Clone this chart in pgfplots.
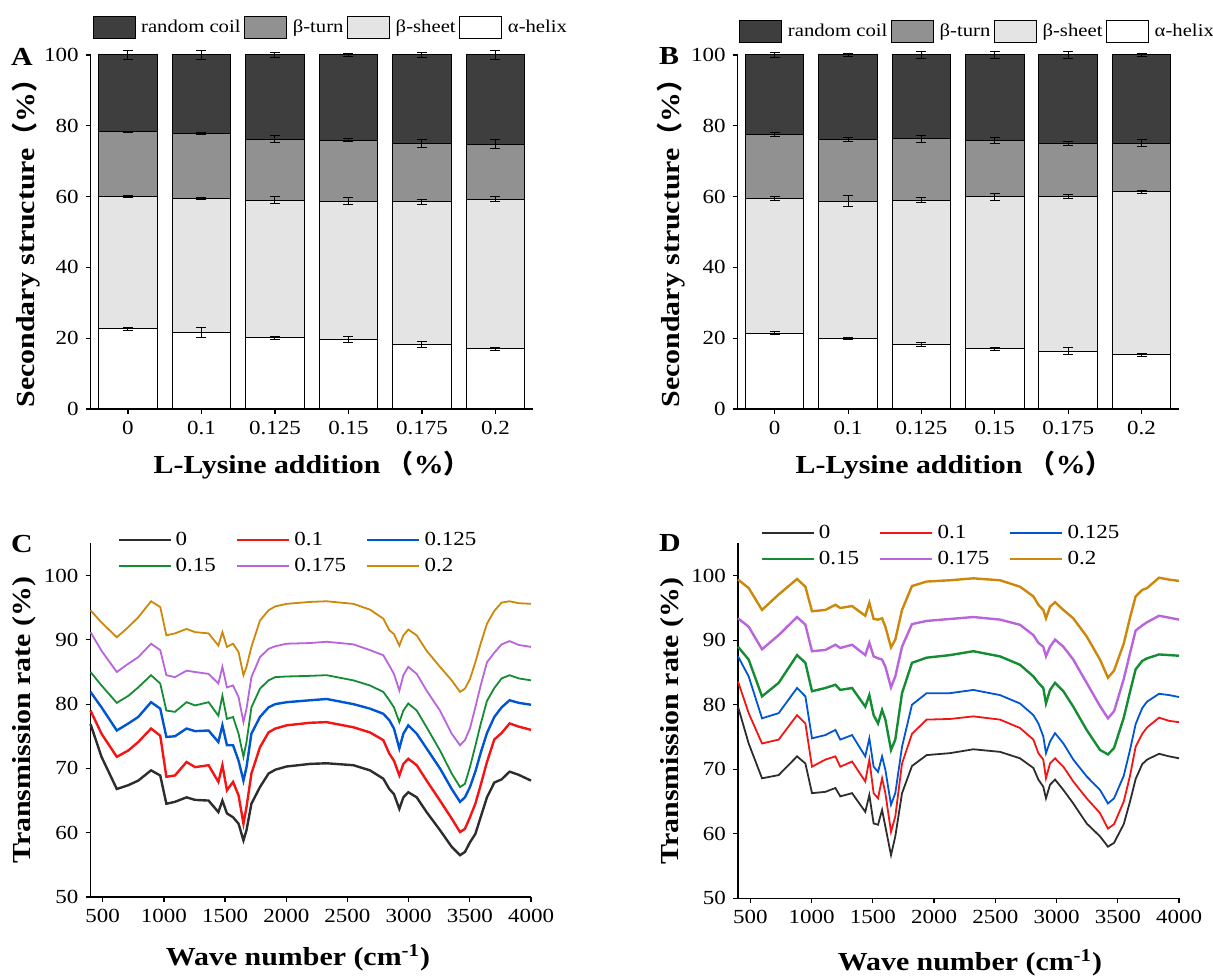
\documentclass[border=0pt]{standalone}
\usepackage{fontspec}
\setmainfont{Liberation Serif}[FakeStretch=1.15]
\newfontfamily\cjk{Noto Sans CJK SC}
\usepackage{pgfplots}
\usepackage{pgfplotstable}
\pgfplotsset{compat=1.18}

\newcommand\ticksize{\fontsize{10}{12}\selectfont}
\newcommand\labsize{\fontsize{13}{15}\selectfont\bfseries}

\definecolor{rcoil}{RGB}{62,62,62}
\definecolor{bturn}{RGB}{145,145,145}
\definecolor{bsheet}{RGB}{228,228,228}
\definecolor{c0}{RGB}{45,45,45}
\definecolor{c1}{RGB}{245,20,20}
\definecolor{c2}{RGB}{0,85,210}
\definecolor{c3}{RGB}{20,140,50}
\definecolor{c4}{RGB}{185,100,220}
\definecolor{c5}{RGB}{205,135,10}

% secondary structure, segments stacked from the bottom, with sd
\pgfplotstableread{
x ah bs bt rc eah ebs ebt erc
0 22.6 37.3 18.4 21.7 0.5 0.3 0.2 1.2
1 21.6 37.9 18.2 22.3 1.5 0.3 0.3 1.2
2 20.1 38.9 17.2 23.8 0.4 1.0 1.0 0.8
3 19.7 39.0 17.2 24.1 0.8 1.0 0.4 0.5
4 18.3 40.2 16.5 25.0 0.8 0.7 1.0 0.8
5 17.0 42.3 15.5 25.2 0.5 0.8 1.2 1.2
}\tabA
\pgfplotstableread{
x ah bs bt rc eah ebs ebt erc
0 21.4 38.0 18.2 22.4 0.5 0.5 0.5 0.6
1 19.9 38.8 17.5 23.8 0.3 1.5 0.6 0.5
2 18.3 40.7 17.3 23.7 0.6 0.8 1.0 1.0
3 17.0 43.0 15.9 24.1 0.4 1.0 0.8 1.0
4 16.3 43.7 15.1 24.9 1.0 0.6 0.6 1.0
5 15.3 46.0 13.8 24.9 0.4 0.3 1.0 0.5
}\tabB

% FTIR spectra
\pgfplotstableread{
x s0 s1 s2 s3 s4 s5
400 76.9 79.0 81.9 85.0 91.2 94.6
490 71.8 75.4 79.5 82.9 88.3 92.7
615 66.8 71.8 75.9 80.2 85.0 90.4
710 67.4 72.8 77.0 81.3 86.3 92.0
790 68.1 74.1 78.0 82.6 87.3 93.5
895 69.7 76.2 80.3 84.5 89.4 96.0
970 68.9 75.1 79.3 83.2 88.4 95.1
1020 64.5 68.7 74.9 79.0 84.5 90.7
1090 64.8 68.9 75.0 78.8 84.2 91.0
1185 65.5 71.0 76.2 80.3 85.2 91.7
1255 65.1 70.2 75.8 79.8 85.0 91.2
1365 65.0 70.5 75.9 80.3 84.7 91.0
1445 63.2 67.9 74.1 78.2 83.2 89.1
1478 65.0 70.5 76.7 81.3 85.8 91.2
1515 63.0 66.6 73.6 77.7 82.6 88.9
1565 62.4 67.9 73.6 78.0 82.9 89.4
1610 61.4 65.8 71.2 75.4 81.1 88.1
1650 58.8 61.4 68.1 71.8 77.2 84.5
1675 60.4 64.0 70.2 74.1 79.3 85.8
1715 64.5 69.2 75.4 79.5 84.2 88.9
1785 67.1 73.3 78.0 82.4 87.3 93.0
1855 69.2 75.6 79.5 83.7 88.6 94.6
1910 69.8 76.2 80.0 84.2 89.0 95.2
2003 70.3 76.7 80.3 84.3 89.4 95.6
2194 70.7 77.1 80.6 84.4 89.5 95.9
2330 70.8 77.2 80.8 84.5 89.7 96.0
2548 70.5 76.4 80.0 83.7 89.3 95.6
2684 69.7 75.6 79.3 82.9 88.4 94.7
2793 68.4 74.4 78.5 81.9 87.6 93.3
2842 66.8 72.3 77.5 80.6 86.0 91.5
2880 66.0 71.2 76.2 79.5 84.7 90.9
2924 63.7 68.9 73.1 77.2 82.1 89.1
2957 65.5 70.7 75.4 79.0 84.5 90.7
2997 66.3 71.5 76.7 80.1 85.8 91.6
3066 65.5 70.5 75.4 79.0 84.7 90.7
3147 63.2 68.1 73.1 76.4 82.1 88.3
3256 60.4 65.0 70.0 72.8 79.0 85.8
3352 57.8 62.2 66.8 69.2 75.4 83.7
3420 56.5 60.1 64.8 67.1 73.6 81.9
3460 57.0 60.6 65.5 67.6 74.4 82.4
3501 58.5 62.4 67.1 70.2 76.2 83.9
3545 59.8 64.5 69.5 73.5 79.5 86.5
3590 62.5 67.5 72.5 77.0 83.0 89.5
3640 65.5 71.0 75.5 80.5 86.5 92.5
3700 67.8 74.5 78.0 82.5 88.0 94.5
3760 68.3 75.5 79.5 84.0 89.3 95.8
3825 69.5 77.0 80.6 84.5 89.8 96.0
3900 69.0 76.5 80.2 84.0 89.2 95.7
4000 68.1 76.0 79.9 83.7 88.9 95.6
}\tabC
\pgfplotstableread{
x s0 s1 s2 s3 s4 s5
400 79.7 83.6 87.5 89.0 93.4 99.4
487 74.0 78.7 84.4 87.0 92.1 98.1
596 68.6 74.0 77.9 81.3 88.6 94.7
732 69.1 74.6 78.7 83.4 90.8 97.1
882 72.0 78.4 82.6 87.7 93.6 99.5
950 70.9 77.1 81.3 86.5 92.4 98.3
1004 66.3 70.4 74.8 82.1 88.3 94.5
1113 66.5 71.5 75.3 82.6 88.5 94.7
1195 67.1 72.0 76.1 83.1 89.3 95.5
1235 65.8 70.4 74.6 82.3 88.8 95.0
1331 66.3 71.2 75.3 82.6 89.3 95.3
1439 63.4 68.1 72.0 79.7 87.7 93.8
1472 66.0 71.5 74.8 81.5 89.6 95.8
1507 61.6 66.3 70.4 78.4 87.5 93.3
1543 61.4 65.5 69.6 77.1 87.2 93.2
1576 63.7 68.6 72.0 79.2 87.0 93.4
1603 61.1 66.3 69.9 77.7 85.9 92.1
1649 56.7 60.3 64.5 73.0 82.7 88.9
1684 59.6 62.7 66.3 74.6 84.4 90.1
1739 66.3 70.9 73.5 81.8 89.0 94.7
1820 70.5 75.5 80.0 86.5 92.5 98.4
1940 72.2 77.7 81.8 87.3 93.0 99.1
2131 72.5 77.8 81.8 87.7 93.3 99.3
2321 73.1 78.2 82.3 88.3 93.6 99.6
2539 72.7 77.7 81.5 87.5 93.2 99.3
2702 71.7 76.4 80.2 86.2 92.4 98.3
2811 70.2 74.6 78.4 84.4 90.8 96.8
2852 68.4 72.5 77.1 83.4 89.6 95.5
2892 67.3 71.5 75.1 82.6 89.0 94.7
2914 65.5 68.6 72.5 80.2 87.5 93.4
2947 67.6 70.9 74.3 82.3 89.0 95.2
2988 68.4 71.7 75.6 83.4 90.1 95.9
3056 66.8 70.4 74.0 82.1 89.0 94.7
3137 64.7 68.1 71.5 79.7 87.0 93.4
3246 61.6 65.5 68.9 76.1 83.4 90.6
3355 59.6 63.2 66.8 73.0 79.8 87.0
3420 58.0 60.8 64.7 72.3 77.9 84.2
3470 58.6 61.5 65.5 73.3 79.0 85.3
3549 61.5 65.0 69.0 78.0 84.0 89.5
3600 65.0 69.0 73.0 82.0 88.0 93.5
3646 68.5 73.5 77.0 85.5 91.5 96.8
3700 70.8 75.5 79.5 86.8 92.3 97.8
3740 71.5 76.5 80.5 87.2 92.8 98.1
3837 72.4 78.0 81.7 87.8 93.8 99.7
3920 72.0 77.5 81.5 87.7 93.5 99.4
4000 71.7 77.3 81.2 87.6 93.2 99.2
}\tabD

\pgfplotsset{
  panel/.style={
    scale only axis, anchor=south west,
    axis x line*=bottom, axis y line*=left,
    axis line style={-, line width=0.6pt},
    tick align=outside, major tick length=2.5pt,
    tick style={black, line width=0.6pt},
    tick label style={font=\ticksize},
    /pgf/number format/assume math mode=true,
    /pgf/number format/1000 sep={},
    label style={font=\labsize},
    clip=false,
  },
  barpanel/.style={
    panel, ybar stacked, bar width=29.2pt,
    xmin=-0.506, xmax=5.505, ymin=0, ymax=100,
    ytick={0,20,...,100}, xtick={0,...,5},
    xticklabels={0,0.1,0.125,0.15,0.175,0.2},
    ylabel={Secondary structure{\cjk （}\%{\cjk ）}},
    xlabel={L-Lysine addition {\cjk （}\%{\cjk ）}},
    reverse legend,
    legend columns=4,
    legend style={anchor=north west, draw=none, fill=none, inner sep=0pt,
      font=\fontsize{9}{11}\selectfont, nodes={inner sep=1.3pt},
      /tikz/every odd column/.append style={column sep=1.5pt},
      /tikz/every even column/.append style={column sep=0.5pt}},
    legend cell align=left,
    legend image code/.code={\draw[#1,line width=0.5pt] (0pt,-5.5pt) rectangle (21pt,5.5pt);},
    every axis plot/.append style={draw=black, line width=0.5pt},
  },
  sd/.style={
    /pgfplots/error bars/y dir=both,
    /pgfplots/error bars/y explicit,
    /pgfplots/error bars/error bar style={black, line width=0.5pt},
    /pgfplots/error bars/error mark options={black, rotate=90, mark size=2.5pt, line width=0.5pt},
  },
  specpanel/.style={
    panel, no markers,
    xmin=400, xmax=4000, ymin=50, ymax=105,
    xtick={500,1000,...,4000}, ytick={50,60,...,100},
    ylabel={Transmission rate (\%)},
    xlabel={Wave number (cm\textsuperscript{-1})},
    legend columns=3,
    legend style={anchor=north west, draw=none, fill=none, inner sep=0pt,
      font=\ticksize, row sep=1pt,
      /tikz/every even column/.append style={column sep=8pt}},
    legend cell align=left,
    legend image code/.code={\draw[#1] (0pt,0pt) -- (26pt,0pt);},
  },
}

\begin{document}
\begin{tikzpicture}
\useasboundingbox (0,0) rectangle (606.5pt,488.5pt);

% A
\begin{axis}[barpanel, at={(45.4pt,284pt)}, width=220.9pt, height=177pt,
  ylabel style={at={(rel axis cs:-0.147,0.486)}, anchor=center},
  xlabel style={at={(rel axis cs:0.5,-0.158)}, anchor=center},
  legend style={at={(rel axis cs:0.003,1.11)}}]
\addplot[fill=white, sd] table[x=x,y=ah,y error=eah]{\tabA};
\addplot[fill=bsheet, sd] table[x=x,y=bs,y error=ebs]{\tabA};
\addplot[fill=bturn, sd] table[x=x,y=bt,y error=ebt]{\tabA};
\addplot[fill=rcoil, sd] table[x=x,y=rc,y error=erc]{\tabA};
\legend{α-helix,β-sheet,β-turn,random coil}
\end{axis}

% B
\begin{axis}[barpanel, at={(368.8pt,284pt)}, width=220.5pt, height=177pt,
  ylabel style={at={(rel axis cs:-0.151,0.486)}, anchor=center},
  xlabel style={at={(rel axis cs:0.49,-0.158)}, anchor=center},
  legend style={at={(rel axis cs:0.003,1.10)}}]
\addplot[fill=white, sd] table[x=x,y=ah,y error=eah]{\tabB};
\addplot[fill=bsheet, sd] table[x=x,y=bs,y error=ebs]{\tabB};
\addplot[fill=bturn, sd] table[x=x,y=bt,y error=ebt]{\tabB};
\addplot[fill=rcoil, sd] table[x=x,y=rc,y error=erc]{\tabB};
\legend{α-helix,β-sheet,β-turn,random coil}
\end{axis}

% C
\begin{axis}[specpanel, at={(45.25pt,40pt)}, width=220.25pt, height=176.8pt,
  ylabel style={at={(rel axis cs:-0.151,0.5)}, anchor=center},
  xlabel style={at={(rel axis cs:0.471,-0.172)}, anchor=center},
  legend style={at={(rel axis cs:0.06,1.045)}}]
\addplot[c0, line width=1.2pt] table[x=x,y=s0]{\tabC};
\addplot[c1, line width=1.2pt] table[x=x,y=s1]{\tabC};
\addplot[c2, line width=1.2pt] table[x=x,y=s2]{\tabC};
\addplot[c3, line width=0.9pt] table[x=x,y=s3]{\tabC};
\addplot[c4, line width=0.9pt] table[x=x,y=s4]{\tabC};
\addplot[c5, line width=0.9pt] table[x=x,y=s5]{\tabC};
\legend{0,0.1,0.125,0.15,0.175,0.2}
\end{axis}

% D
\begin{axis}[specpanel, at={(369pt,39.35pt)}, width=220.5pt, height=177.4pt,
  ylabel style={at={(rel axis cs:-0.15,0.5)}, anchor=center},
  xlabel style={at={(rel axis cs:0.526,-0.182)}, anchor=center},
  legend style={at={(rel axis cs:0.05,1.065)}}]
\addplot[c0, line width=0.9pt] table[x=x,y=s0]{\tabD};
\addplot[c1, line width=0.9pt] table[x=x,y=s1]{\tabD};
\addplot[c2, line width=0.9pt] table[x=x,y=s2]{\tabD};
\addplot[c3, line width=1.2pt] table[x=x,y=s3]{\tabD};
\addplot[c4, line width=1.2pt] table[x=x,y=s4]{\tabD};
\addplot[c5, line width=1.2pt] table[x=x,y=s5]{\tabD};
\legend{0,0.1,0.125,0.15,0.175,0.2}
\end{axis}

\node[font=\labsize] at (11pt,460pt) {A};
\node[font=\labsize] at (334.5pt,460.5pt) {B};
\node[font=\labsize] at (11pt,216.5pt) {C};
\node[font=\labsize] at (335pt,217pt) {D};
\end{tikzpicture}
\end{document}
